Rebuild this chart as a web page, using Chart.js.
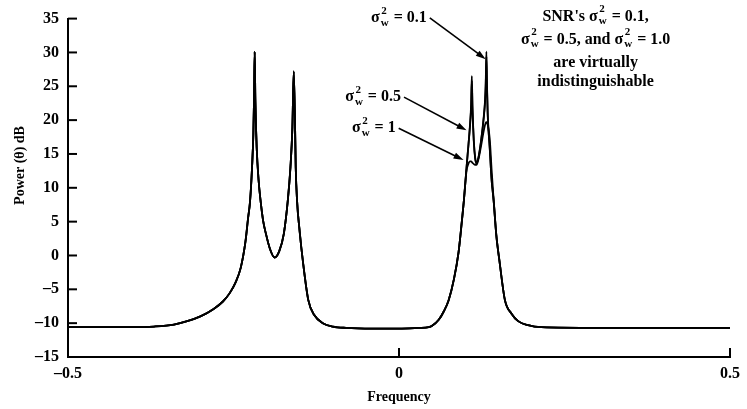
<!DOCTYPE html>
<html>
<head>
<meta charset="utf-8">
<script src="https://cdn.jsdelivr.net/npm/chart.js@4.4.0/dist/chart.umd.min.js"></script>
<style>
  html, body { margin: 0; padding: 0; background: #fff; }
</style>
</head>
<body>
<canvas id="psd" width="747" height="409"></canvas>
<script>
// values (frequency, power in dB)
const leftFreq = [-0.5, -0.45, -0.4, -0.37, -0.34, -0.32, -0.30, -0.28, -0.266, -0.256, -0.247, -0.239,
  -0.232, -0.228, -0.225, -0.222, -0.220, -0.219, -0.218, -0.217, -0.215, -0.212, -0.209, -0.205,
  -0.201, -0.195, -0.188, -0.181, -0.174, -0.168, -0.164, -0.161, -0.159, -0.157, -0.156, -0.154,
  -0.150, -0.145, -0.137, -0.128, -0.115, -0.10, -0.08, -0.04, 0, 0.03];
const leftDb = [-10.6, -10.6, -10.6, -10.5, -10.2, -9.7, -9.0, -7.9, -6.8, -5.6, -4.0, -1.8,
  2.0, 5.5, 8.0, 13, 18, 23, 30.1, 23, 16, 11, 8, 5,
  3.2, 1.0, -0.3, 0.6, 3.2, 8.1, 13, 19, 27.2, 19, 13, 8.1,
  3.5, -1, -6.6, -8.8, -10.0, -10.5, -10.7, -10.8, -10.8, -10.7];

const rightFreq = [0.045, 0.05, 0.06, 0.068, 0.075, 0.083, 0.09, 0.095, 0.098, 0.102, 0.105, 0.107,
  0.109, 0.110, 0.111, 0.113, 0.115, 0.117, 0.120, 0.124, 0.128, 0.130, 0.131, 0.132,
  0.133, 0.134, 0.137, 0.140, 0.143, 0.147, 0.152, 0.16, 0.17, 0.18, 0.195, 0.215, 0.3, 0.4, 0.5];
const rightDb01 = [-10.6, -10.4, -9.5, -8.2, -6.6, -3.5, 0.5, 5.1, 8.1, 13, 16.5, 19,
  22.5, 26.5, 22, 17, 14.5, 13.6, 14.5, 17, 20.5, 23, 25.5, 30.1,
  25, 21, 16, 11, 8.1, 3, -1, -6.6, -8.6, -9.7, -10.3, -10.6, -10.7, -10.7, -10.7];
const rightDb05 = [-10.6, -10.4, -9.5, -8.2, -6.6, -3.5, 0.5, 5.1, 8.1, 13, 16.4, 18.8,
  22.0, 25.8, 21.6, 16.8, 14.4, 13.6, 14.4, 16.9, 20.3, 22.7, 25.0, 29.4,
  24.5, 20.7, 15.9, 11, 8.1, 3, -1, -6.6, -8.6, -9.7, -10.3, -10.6, -10.7, -10.7, -10.7];
const rightDb1 = [-10.6, -10.4, -9.5, -8.2, -6.6, -3.5, 0.5, 5.1, 8.1, 12.5, 13.6, 13.9,
  13.9, 13.8, 13.7, 13.5, 13.4, 13.4, 14.2, 16.2, 18.4, 19.3, 19.6, 19.7,
  19.6, 19.3, 17.3, 12.5, 8.1, 3, -1, -6.6, -8.6, -9.7, -10.3, -10.6, -10.7, -10.7, -10.7];

const xTicks = [-0.5, 0, 0.5];
const yTicks = [-15, -10, -5, 0, 5, 10, 15, 20, 25, 30, 35];

const SERIF = '"Liberation Serif", "DejaVu Serif", serif';
const SIG = 'sigma_w^2';

// labels next to the right peaks: text anchor (right end) and arrow tip, in data units
const sigmaLabels = [
  { val: '0.1', at: [0.042, 35.1], tip: [0.131, 29.0] },
  { val: '0.5', at: [0.003, 23.4], tip: [0.102, 18.5] },
  { val: '1',   at: [-0.005, 18.8], tip: [0.0975, 14.1] }
];
const noteLines = [
  { parts: ["SNR's ", SIG, ' = 0.1,'], at: [0.297, 35.3] },
  { parts: [SIG, ' = 0.5, and ', SIG, ' = 1.0'], at: [0.297, 31.9] },
  { parts: ['are virtually'], at: [0.297, 28.4] },
  { parts: ['indistinguishable'], at: [0.297, 25.6] }
];

function toPoints(fx, fy) {
  return fx.map((f, i) => ({ x: f, y: fy[i] }));
}

const bigFont = 'bold 16px ' + SERIF;
const smallFont = 'bold 11px ' + SERIF;

function richWidth(ctx, parts) {
  let w = 0;
  parts.forEach(p => {
    if (p === SIG) {
      ctx.font = bigFont;
      w += ctx.measureText('σ').width + 1;
      ctx.font = smallFont;
      w += Math.max(ctx.measureText('2').width, ctx.measureText('w').width) + 1;
    } else {
      ctx.font = bigFont;
      w += ctx.measureText(p).width;
    }
  });
  return w;
}

function drawRich(ctx, parts, x, y, align) {
  const w = richWidth(ctx, parts);
  let cx = align === 'right' ? x - w : (align === 'center' ? x - w / 2 : x);
  ctx.textAlign = 'left';
  ctx.textBaseline = 'middle';
  parts.forEach(p => {
    if (p === SIG) {
      ctx.font = bigFont;
      ctx.fillText('σ', cx, y);
      cx += ctx.measureText('σ').width + 1;
      ctx.font = smallFont;
      ctx.fillText('2', cx + 0.5, y - 7);
      ctx.fillText('w', cx, y + 5);
      cx += Math.max(ctx.measureText('2').width, ctx.measureText('w').width) + 1;
    } else {
      ctx.font = bigFont;
      ctx.fillText(p, cx, y);
      cx += ctx.measureText(p).width;
    }
  });
}

function drawArrow(ctx, x0, y0, x1, y1) {
  const a = Math.atan2(y1 - y0, x1 - x0);
  const len = 10, half = 3.2;
  ctx.beginPath();
  ctx.moveTo(x0, y0);
  ctx.lineTo(x1 - Math.cos(a) * len * 0.8, y1 - Math.sin(a) * len * 0.8);
  ctx.stroke();
  ctx.beginPath();
  ctx.moveTo(x1, y1);
  ctx.lineTo(x1 - Math.cos(a) * len - Math.sin(a) * half, y1 - Math.sin(a) * len + Math.cos(a) * half);
  ctx.lineTo(x1 - Math.cos(a) * len + Math.sin(a) * half, y1 - Math.sin(a) * len - Math.cos(a) * half);
  ctx.closePath();
  ctx.fill();
}

const insideTicks = {
  id: 'insideTicks',
  afterDraw(chart) {
    const { ctx, chartArea, scales: { x, y } } = chart;
    ctx.save();
    ctx.strokeStyle = '#000';
    ctx.lineWidth = 2;
    yTicks.forEach(v => {
      const py = y.getPixelForValue(v);
      ctx.beginPath();
      ctx.moveTo(chartArea.left, py);
      ctx.lineTo(chartArea.left + 9, py);
      ctx.stroke();
    });
    xTicks.forEach(v => {
      const px = x.getPixelForValue(v);
      ctx.beginPath();
      ctx.moveTo(px, chartArea.bottom);
      ctx.lineTo(px, chartArea.bottom - 9);
      ctx.stroke();
    });
    // y axis title, set a bit above the middle of the axis as in the original
    ctx.save();
    ctx.translate(20, y.getPixelForValue(13.3));
    ctx.rotate(-Math.PI / 2);
    ctx.font = 'bold 14px ' + SERIF;
    ctx.fillStyle = '#000';
    ctx.textAlign = 'center';
    ctx.textBaseline = 'middle';
    ctx.fillText('Power (θ) dB', 0, 0);
    ctx.restore();
    ctx.restore();
  }
};

const notes = {
  id: 'notes',
  afterDatasetsDraw(chart) {
    const { ctx, scales: { x, y } } = chart;
    ctx.save();
    ctx.fillStyle = '#000';
    ctx.strokeStyle = '#000';
    ctx.lineWidth = 1.6;
    sigmaLabels.forEach(l => {
      const tx = x.getPixelForValue(l.at[0]);
      const ty = y.getPixelForValue(l.at[1]);
      drawRich(ctx, [SIG, ' = ' + l.val], tx, ty, 'right');
      drawArrow(ctx, tx + 3, ty, x.getPixelForValue(l.tip[0]), y.getPixelForValue(l.tip[1]));
    });
    noteLines.forEach(n => {
      drawRich(ctx, n.parts, x.getPixelForValue(n.at[0]), y.getPixelForValue(n.at[1]), 'center');
    });
    ctx.restore();
  }
};

function series(label, fy) {
  return {
    label,
    data: toPoints(leftFreq.concat(rightFreq), leftDb.concat(fy)),
    showLine: true,
    borderColor: '#000',
    borderWidth: 1.8,
    pointRadius: 0,
    cubicInterpolationMode: 'monotone',
    fill: false
  };
}

const fmt = v => (v < 0 ? '\u2013' + Math.abs(v) : String(v));

new Chart(document.getElementById('psd'), {
  type: 'scatter',
  data: {
    datasets: [
      series('0.1', rightDb01),
      series('0.5', rightDb05),
      series('1', rightDb1)
    ]
  },
  options: {
    responsive: false,
    animation: false,
    devicePixelRatio: 1,
    layout: { padding: { top: 17, right: 12, left: 0, bottom: 0 } },
    plugins: { legend: { display: false }, tooltip: { enabled: false } },
    scales: {
      x: {
        type: 'linear',
        min: -0.5,
        max: 0.5,
        afterBuildTicks: s => { s.ticks = xTicks.map(v => ({ value: v })); },
        afterFit: s => { s.height = 52; },
        grid: { display: false, drawTicks: false },
        border: { display: true, color: '#000', width: 2 },
        ticks: { color: '#000', padding: 7, maxRotation: 0, font: { family: SERIF, size: 16, weight: 'bold' }, callback: fmt },
        title: { display: true, text: 'Frequency', color: '#000', padding: { top: 4, bottom: 3 }, font: { family: SERIF, size: 14, weight: 'bold' } }
      },
      y: {
        min: -15,
        max: 35,
        afterBuildTicks: s => { s.ticks = yTicks.map(v => ({ value: v })); },
        afterFit: s => { s.width = 68; },
        grid: { display: false, drawTicks: false },
        border: { display: true, color: '#000', width: 2 },
        ticks: { color: '#000', padding: 9, font: { family: SERIF, size: 16, weight: 'bold' }, callback: fmt },
        title: { display: false }
      }
    }
  },
  plugins: [insideTicks, notes]
});
</script>
</body>
</html>
